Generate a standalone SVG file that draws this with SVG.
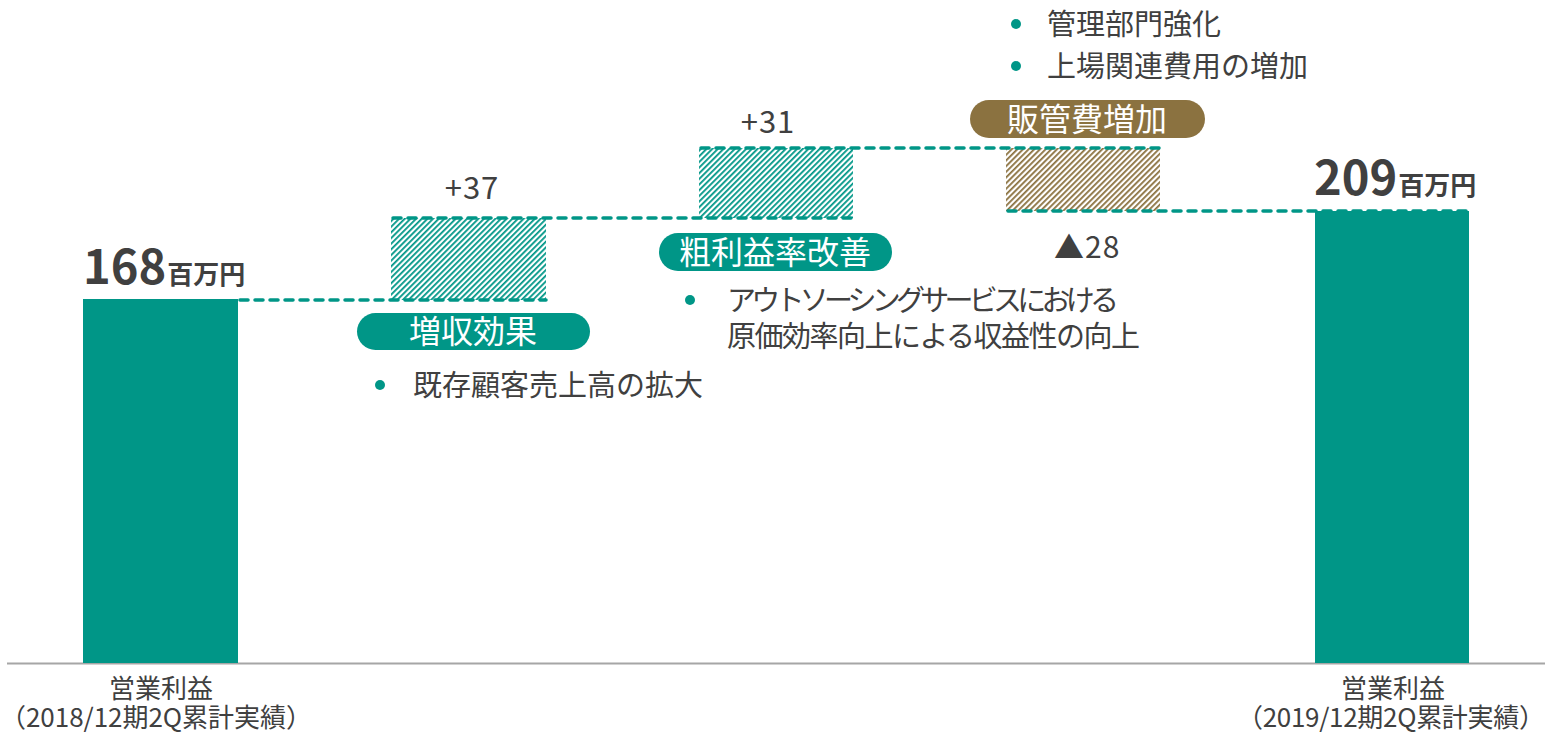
<svg xmlns="http://www.w3.org/2000/svg" width="1547" height="734" viewBox="0 0 1547 734">
<defs>
<pattern id="hatchT" patternUnits="userSpaceOnUse" width="4" height="4" patternTransform="rotate(45)">
<rect x="0" y="0" width="1.8" height="4" fill="#009687"/>
</pattern>
<pattern id="hatchB" patternUnits="userSpaceOnUse" width="4" height="4" patternTransform="rotate(45)">
<rect x="0" y="0" width="1.8" height="4" fill="#8b7240"/>
</pattern>
<style>
text{font-family:"Noto Sans CJK JP","Noto Sans",sans-serif;fill:#404040}
.lbl{font-size:29px}
.cap{font-size:26px;text-anchor:middle}
.pill-t{font-size:32px;fill:#ffffff;text-anchor:middle}
.num{font-size:31px;text-anchor:middle;letter-spacing:1px}
.big{font-weight:bold}
.dash{stroke:#009687;stroke-width:3.5;stroke-dasharray:8 7;stroke-linecap:round;fill:none}
.bar{fill:#009687}
.dot{fill:#009687}
</style>
</defs>
<rect width="1547" height="734" fill="#ffffff"/>

<g id="axis">
<line x1="7" y1="663.5" x2="1545" y2="663.5" stroke="#a6a6a6" stroke-width="2"/>
</g>

<g id="bar-2018">
<rect class="bar" x="83" y="299" width="155" height="364"/>
<text x="83" y="284" class="big"><tspan font-size="47">168</tspan><tspan font-size="26" dx="1">百万円</tspan></text>
<text x="161" y="698" class="cap">営業利益</text>
<text x="156" y="727" class="cap" textLength="312">（2018/12期2Q累計実績）</text>
</g>

<g id="bar-2019">
<rect class="bar" x="1315" y="211" width="154" height="452"/>
<text x="1314" y="195" class="big"><tspan font-size="47">209</tspan><tspan font-size="26" dx="1">百万円</tspan></text>
<text x="1393" y="698" class="cap">営業利益</text>
<text x="1391" y="727" class="cap" textLength="308">（2019/12期2Q累計実績）</text>
</g>

<g id="step-revenue">
<rect x="391" y="218" width="155" height="82" fill="url(#hatchT)"/>
<text x="472" y="199" class="num">+37</text>
<rect x="357" y="313" width="233" height="37" rx="18.5" fill="#009687"/>
<text x="473" y="343" class="pill-t">増収効果</text>
<circle class="dot" cx="380" cy="385" r="5"/>
<text x="413" y="396" class="lbl">既存顧客売上高の拡大</text>
</g>

<g id="step-margin">
<rect x="699" y="148" width="154" height="70" fill="url(#hatchT)"/>
<text x="768" y="133" class="num">+31</text>
<rect x="659" y="233" width="233" height="38" rx="19" fill="#009687"/>
<text x="775" y="264" class="pill-t">粗利益率改善</text>
<circle class="dot" cx="690" cy="300" r="5"/>
<text x="727" y="311" class="lbl" textLength="392" lengthAdjust="spacing">アウトソーシングサービスにおける</text>
<text x="727" y="347" class="lbl" textLength="413" lengthAdjust="spacing">原価効率向上による収益性の向上</text>
</g>

<g id="step-sga">
<rect x="1006" y="148" width="154" height="63" fill="url(#hatchB)"/>
<text x="1054" y="258" font-size="30" letter-spacing="1">▲28</text>
<rect x="970" y="100" width="235" height="38" rx="19" fill="#8b7240"/>
<text x="1087" y="131" class="pill-t">販管費増加</text>
<circle class="dot" cx="1016" cy="24" r="5"/>
<text x="1047" y="35" class="lbl">管理部門強化</text>
<circle class="dot" cx="1016" cy="66" r="5"/>
<text x="1047" y="77" class="lbl">上場関連費用の増加</text>
</g>

<g id="connectors">
<line class="dash" x1="240" y1="300" x2="546" y2="300"/>
<line class="dash" x1="393" y1="218" x2="853" y2="218"/>
<line class="dash" x1="701" y1="148" x2="1160" y2="148"/>
<line class="dash" x1="1008" y1="211" x2="1467" y2="211"/>
</g>
</svg>
